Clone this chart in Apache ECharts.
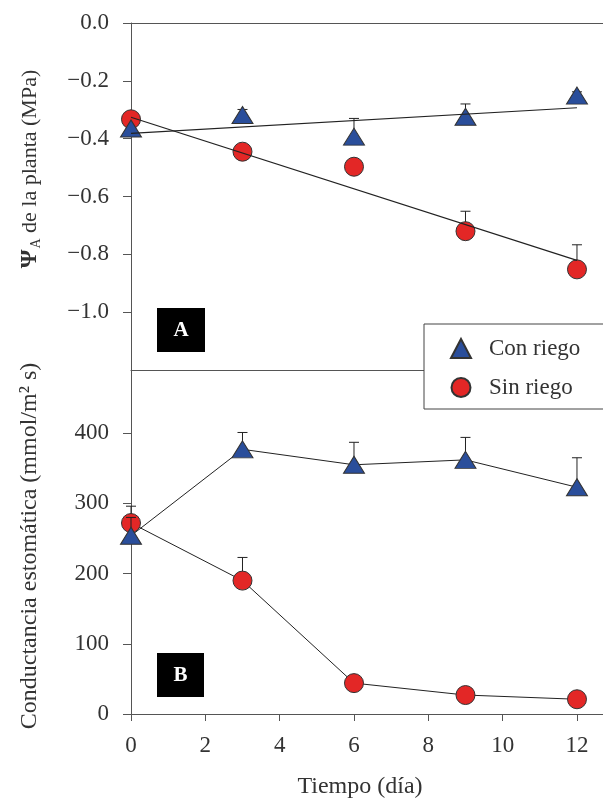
<!DOCTYPE html>
<html><head><meta charset="utf-8">
<script src="https://cdn.jsdelivr.net/npm/echarts@6/dist/echarts.min.js"></script>
<style>html,body{margin:0;padding:0;background:#fff}#c{width:603px;height:800px}</style>
</head><body><div id="c"></div>
<script>
// ---- data ----
const days = [0, 3, 6, 9, 12];
const xTicks = [0, 2, 4, 6, 8, 10, 12];
const psiTicks = [-1.0, -0.8, -0.6, -0.4, -0.2, 0.0];
const condTicks = [0, 100, 200, 300, 400];
const seriesNames = ['Con riego', 'Sin riego'];
// Panel A: water potential (MPa)
const psiCon = [-0.365, -0.318, -0.393, -0.324, -0.251];
const psiConUpper = [null, -0.299, -0.330, -0.280, -0.238];
const psiSin = [-0.333, -0.445, -0.497, -0.720, -0.852];
const psiSinUpper = [null, null, null, -0.651, -0.767];
const fitDays = [0, 12];
const psiConFit = [-0.382, -0.293];
const psiSinFit = [-0.326, -0.821];
// Panel B: stomatal conductance (mmol/m2 s)
const condCon = [254, 377, 355, 362, 323];
const condConUpper = [280, 401, 387, 394, 365];
const condSin = [272, 190, 44, 27, 21];
const condSinUpper = [296, 223, null, null, null];

// ---- styling ----
const FONT = '"Liberation Serif", "Times New Roman", serif';
const RED = '#e32726', BLUE = '#2a4e9b', INK = '#222', AX = '#555', LBL = '#333';

const pairs = (xs, ys) => xs.map((x, i) => [x, ys[i]]);
const errData = (xs, ys, up) => xs.map((x, i) => up[i] == null ? null : [x, ys[i], up[i]]).filter(d => d);
const fmtMinus = v => (v < 0 ? '\u2212' : '') + Math.abs(v).toFixed(1);

function errRender(params, api) {
  const x = api.value(0), y = api.value(1), hi = api.value(2);
  const p0 = api.coord([x, y]), p1 = api.coord([x, hi]);
  return {
    type: 'group',
    children: [
      { type: 'line', shape: { x1: p0[0], y1: p0[1], x2: p1[0], y2: p1[1] }, style: { stroke: INK, lineWidth: 1 } },
      { type: 'line', shape: { x1: p1[0] - 5, y1: p1[1], x2: p1[0] + 5, y2: p1[1] }, style: { stroke: INK, lineWidth: 1 } }
    ]
  };
}

const GRID_LEFT = 131, GRID_W = 472;
const xBase = { type: 'value', min: 0, max: 12.7, interval: 2, splitLine: { show: false } };

const option = {
  animation: false,
  backgroundColor: '#fff',
  textStyle: { fontFamily: FONT },
  grid: [
    { left: GRID_LEFT, top: 23, width: GRID_W, height: 347 },
    { left: GRID_LEFT, top: 370, width: GRID_W, height: 345 }
  ],
  xAxis: [
    Object.assign({}, xBase, { gridIndex: 0, position: 'bottom', axisLine: { onZero: false, lineStyle: { color: AX } }, axisTick: { show: false }, axisLabel: { show: false } }),
    Object.assign({}, xBase, { gridIndex: 0, position: 'top', axisLine: { onZero: false, lineStyle: { color: AX } }, axisTick: { show: false }, axisLabel: { show: false } }),
    Object.assign({}, xBase, {
      gridIndex: 1, position: 'bottom',
      axisLine: { onZero: false, lineStyle: { color: AX } },
      axisTick: { show: true, length: 7, inside: false, customValues: xTicks, lineStyle: { color: AX } },
      axisLabel: { customValues: xTicks, color: LBL, fontSize: 23, fontFamily: FONT, margin: 20 },
      name: 'Tiempo (día)', nameLocation: 'middle', nameGap: 61,
      nameTextStyle: { color: LBL, fontSize: 24, fontFamily: FONT, padding: [0, 14, 0, 0] }
    })
  ],
  yAxis: [
    {
      type: 'value', gridIndex: 0, min: -1.2, max: 0, interval: 0.2,
      splitLine: { show: false },
      axisLine: { show: true, onZero: false, lineStyle: { color: AX } },
      axisTick: { show: true, length: 8, customValues: psiTicks, lineStyle: { color: AX } },
      axisLabel: { customValues: psiTicks, formatter: fmtMinus, color: LBL, fontSize: 23, fontFamily: FONT, margin: 22 }
    },
    {
      type: 'value', gridIndex: 1, min: 0, max: 490, interval: 100,
      splitLine: { show: false },
      axisLine: { show: true, onZero: false, lineStyle: { color: AX } },
      axisTick: { show: true, length: 8, customValues: condTicks, lineStyle: { color: AX } },
      axisLabel: { customValues: condTicks, color: LBL, fontSize: 23, fontFamily: FONT, margin: 22 }
    }
  ],
  legend: {
    orient: 'vertical', left: 424, top: 324,
    padding: [13, 40, 10, 26], itemGap: 16, itemWidth: 20, itemHeight: 19,
    backgroundColor: '#fff', borderColor: '#444', borderWidth: 1,
    textStyle: { color: LBL, fontSize: 23, lineHeight: 22, fontFamily: FONT, padding: [0, 0, 0, 13] },
    data: [{ name: seriesNames[0], icon: 'triangle' }, { name: seriesNames[1], icon: 'circle' }],
    selectedMode: false
  },
  graphic: [
    { type: 'rect', left: 157, top: 308, shape: { width: 48, height: 44 }, style: { fill: '#000' }, z: 10 },
    { type: 'text', x: 181, y: 331, z: 11, style: { text: 'A', fill: '#fff', font: 'bold 21px ' + FONT, align: 'center', verticalAlign: 'middle', textAlign: 'center', textVerticalAlign: 'middle' } },
    { type: 'rect', left: 157, top: 653, shape: { width: 47, height: 44 }, style: { fill: '#000' }, z: 10 },
    { type: 'text', x: 180.5, y: 676, z: 11, style: { text: 'B', fill: '#fff', font: 'bold 21px ' + FONT, align: 'center', verticalAlign: 'middle', textAlign: 'center', textVerticalAlign: 'middle' } },
    {
      type: 'text', x: 30, y: 169, rotation: Math.PI / 2, z: 11,
      style: {
        text: '{p|\u03A8}{s|A}{t| de la planta (MPa)}',
        align: 'center', verticalAlign: 'middle', textAlign: 'center', textVerticalAlign: 'middle',
        rich: {
          p: { fontSize: 24, fontWeight: 'bold', fontFamily: FONT, fill: LBL, lineHeight: 26, verticalAlign: 'middle' },
          s: { fontSize: 14, fontFamily: FONT, fill: LBL, lineHeight: 14, verticalAlign: 'bottom', padding: [0, 0, 0, 1] },
          t: { fontSize: 22, fontFamily: FONT, fill: LBL, lineHeight: 26, verticalAlign: 'middle' }
        }
      }
    },
    {
      type: 'text', x: 30, y: 546, rotation: Math.PI / 2, z: 11,
      style: {
        text: 'Conductancia estomática (mmol/m\u00B2 s)',
        fill: LBL, font: '24px ' + FONT,
        align: 'center', verticalAlign: 'middle', textAlign: 'center', textVerticalAlign: 'middle'
      }
    }
  ],
  series: [
    // Panel A
    { name: 'errA_sin', type: 'custom', xAxisIndex: 0, yAxisIndex: 0, renderItem: errRender, data: errData(days, psiSin, psiSinUpper), z: 2 },
    { name: seriesNames[1], type: 'scatter', xAxisIndex: 0, yAxisIndex: 0, symbol: 'circle', symbolSize: 19,
      itemStyle: { color: RED, borderColor: '#333', borderWidth: 1, opacity: 1 }, data: pairs(days, psiSin), z: 3 },
    { name: 'errA_con', type: 'custom', xAxisIndex: 0, yAxisIndex: 0, renderItem: errRender, data: errData(days, psiCon, psiConUpper), z: 4 },
    { name: seriesNames[0], type: 'scatter', xAxisIndex: 0, yAxisIndex: 0, symbol: 'triangle', symbolSize: [21, 17],
      itemStyle: { color: BLUE, borderColor: '#333', borderWidth: 1, opacity: 1 }, data: pairs(days, psiCon), z: 5 },
    { name: 'fitA_con', type: 'line', xAxisIndex: 0, yAxisIndex: 0, symbol: 'none', lineStyle: { color: INK, width: 1.2 }, data: pairs(fitDays, psiConFit), z: 6 },
    { name: 'fitA_sin', type: 'line', xAxisIndex: 0, yAxisIndex: 0, symbol: 'none', lineStyle: { color: INK, width: 1.2 }, data: pairs(fitDays, psiSinFit), z: 6 },
    // Panel B
    { name: 'errB_sin', type: 'custom', xAxisIndex: 2, yAxisIndex: 1, renderItem: errRender, data: errData(days, condSin, condSinUpper), z: 2 },
    { name: seriesNames[1], type: 'line', xAxisIndex: 2, yAxisIndex: 1, symbol: 'circle', symbolSize: 19, showAllSymbol: true,
      lineStyle: { color: INK, width: 1 }, itemStyle: { color: RED, borderColor: '#333', borderWidth: 1 }, data: pairs(days, condSin), z: 3 },
    { name: 'errB_con', type: 'custom', xAxisIndex: 2, yAxisIndex: 1, renderItem: errRender, data: errData(days, condCon, condConUpper), z: 4 },
    { name: seriesNames[0], type: 'line', xAxisIndex: 2, yAxisIndex: 1, symbol: 'triangle', symbolSize: [21, 17], showAllSymbol: true,
      lineStyle: { color: INK, width: 1 }, itemStyle: { color: BLUE, borderColor: '#333', borderWidth: 1 }, data: pairs(days, condCon), z: 5 }
  ]
};

const chart = echarts.init(document.getElementById('c'), null, { renderer: 'canvas' });
chart.setOption(option);
</script>
</body></html>
